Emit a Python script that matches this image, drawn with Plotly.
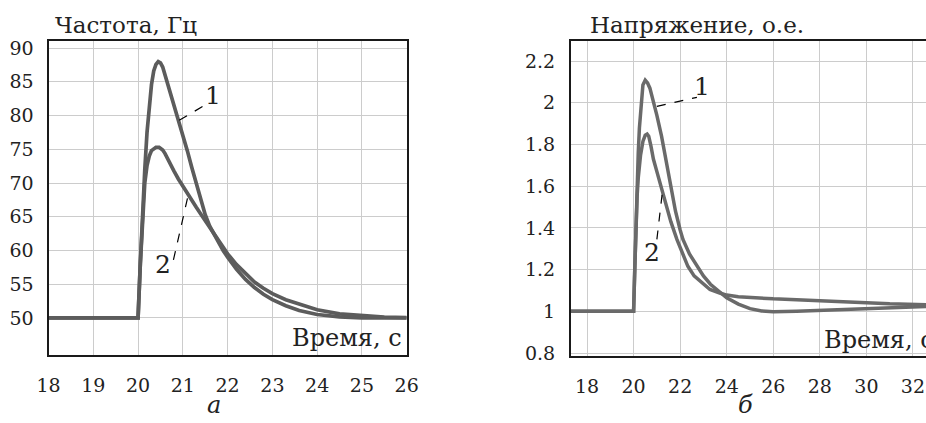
import plotly.graph_objects as go

# ---------- Data: frequency (panel a) ----------
t_f1 = [18.0, 19.0, 19.98, 20.0, 20.05, 20.1, 20.15, 20.2, 20.25, 20.3, 20.35, 20.4, 20.45, 20.5, 20.55,
        20.6, 20.7, 20.8, 20.9, 21.0, 21.1, 21.2, 21.3, 21.4, 21.5, 21.6, 21.7, 21.8, 21.9, 22.0,
        22.2, 22.4, 22.6, 22.8, 23.0, 23.3, 23.6, 24.0, 24.5, 25.0, 25.5, 26.0]
f1 = [50.0, 50.0, 50.0, 50.0, 58.0, 66.0, 72.0, 77.5, 81.5, 84.6, 86.6, 87.6, 88.0, 87.8, 87.2,
      86.1, 84.0, 81.7, 79.4, 77.1, 74.8, 72.3, 69.8, 67.4, 65.3, 63.6, 62.3, 61.1, 60.0, 59.0,
      57.2, 55.7, 54.5, 53.5, 52.7, 51.8, 51.1, 50.5, 50.15, 50.0, 50.0, 50.0]

t_f2 = [18.0, 19.0, 19.98, 20.0, 20.05, 20.1, 20.15, 20.2, 20.25, 20.3, 20.35, 20.4, 20.47, 20.5, 20.55,
        20.6, 20.7, 20.8, 20.9, 21.0, 21.1, 21.2, 21.3, 21.4, 21.5, 21.6, 21.7, 21.8, 21.9, 22.0,
        22.2, 22.4, 22.6, 22.8, 23.0, 23.3, 23.6, 24.0, 24.5, 25.0, 25.5, 26.0]
f2 = [50.0, 50.0, 50.0, 50.0, 58.0, 65.0, 70.0, 72.6, 74.0, 74.8, 75.1, 75.3, 75.3, 75.2, 74.9,
      74.4, 73.0, 71.8, 70.6, 69.5, 68.4, 67.4, 66.4, 65.4, 64.4, 63.4, 62.3, 61.3, 60.3, 59.5,
      57.9, 56.5, 55.3, 54.4, 53.6, 52.7, 52.0, 51.2, 50.6, 50.3, 50.1, 50.05]

# ---------- Data: voltage (panel б) ----------
t_u1 = [17.3, 19.0, 19.98, 20.0, 20.05, 20.1, 20.15, 20.2, 20.25, 20.3, 20.35, 20.4, 20.5, 20.6, 20.7,
        20.8, 20.9, 21.0, 21.2, 21.4, 21.6, 21.8, 22.0, 22.12, 22.4, 22.72, 23.0, 23.3, 23.58, 23.7,
        24.0, 24.5, 25.0, 25.5, 26.0, 27.0, 28.0, 29.0, 30.0, 31.0, 32.6]
u1 = [1.0, 1.0, 1.0, 1.0, 1.2, 1.42, 1.6, 1.76, 1.88, 1.97, 2.04, 2.085, 2.108, 2.095, 2.07,
      2.03, 1.985, 1.94, 1.84, 1.72, 1.595, 1.48, 1.39, 1.345, 1.275, 1.216, 1.17, 1.13, 1.105, 1.09,
      1.065, 1.035, 1.013, 1.002, 0.998, 1.0, 1.005, 1.01, 1.014, 1.018, 1.024]

t_u2 = [17.3, 19.0, 19.98, 20.0, 20.05, 20.1, 20.15, 20.2, 20.3, 20.4, 20.5, 20.58, 20.65, 20.75, 20.85,
        21.0, 21.1, 21.26, 21.4, 21.6, 21.86, 22.1, 22.33, 22.6, 22.9, 23.28, 23.7, 24.0, 24.5, 25.0,
        26.0, 27.0, 28.0, 29.0, 30.0, 31.0, 32.6]
u2 = [1.0, 1.0, 1.0, 1.0, 1.2, 1.4, 1.55, 1.64, 1.75, 1.815, 1.845, 1.85, 1.84, 1.79, 1.73,
      1.67, 1.63, 1.58, 1.51, 1.43, 1.345, 1.28, 1.216, 1.17, 1.14, 1.105, 1.088, 1.078, 1.07, 1.066,
      1.06, 1.056, 1.05, 1.045, 1.04, 1.036, 1.032]

f_xticks = [18, 19, 20, 21, 22, 23, 24, 25, 26]
f_yticks = [50, 55, 60, 65, 70, 75, 80, 85, 90]
u_xticks = [18, 20, 22, 24, 26, 28, 30, 32]
u_yticks = [0.8, 1.0, 1.2, 1.4, 1.6, 1.8, 2.0, 2.2]
u_ytext = ["0.8", "1", "1.2", "1.4", "1.6", "1.8", "2", "2.2"]

FONT = "DejaVu Serif"
LEFT_COLOR = "#5c5c5c"
RIGHT_COLOR = "#6a6a6a"

fig = go.Figure()
fig.add_trace(go.Scatter(x=t_f1, y=f1, mode="lines", line=dict(color=LEFT_COLOR, width=3.7),
                         xaxis="x", yaxis="y", showlegend=False, hoverinfo="skip"))
fig.add_trace(go.Scatter(x=t_f2, y=f2, mode="lines", line=dict(color=LEFT_COLOR, width=3.7),
                         xaxis="x", yaxis="y", showlegend=False, hoverinfo="skip"))
fig.add_trace(go.Scatter(x=t_u1, y=u1, mode="lines", line=dict(color=RIGHT_COLOR, width=3.5),
                         xaxis="x2", yaxis="y2", showlegend=False, hoverinfo="skip"))
fig.add_trace(go.Scatter(x=t_u2, y=u2, mode="lines", line=dict(color=RIGHT_COLOR, width=3.5),
                         xaxis="x2", yaxis="y2", showlegend=False, hoverinfo="skip"))

axis_common = dict(showgrid=True, gridcolor="#cccccc", gridwidth=1, zeroline=False,
                   showline=True, linecolor="#1a1a1a", linewidth=2, ticks="",
                   tickfont=dict(family=FONT, size=19, color="#222"), automargin=False)

fig.update_layout(
    width=926, height=423,
    margin=dict(l=0, r=0, t=0, b=0),
    paper_bgcolor="white", plot_bgcolor="white",
    font=dict(family=FONT),
    xaxis=dict(domain=[0.0524, 0.4392], range=[18, 26], tickvals=f_xticks, mirror=True,
               anchor="y", ticklabelstandoff=12, **axis_common),
    yaxis=dict(domain=[0.1608, 0.903], range=[44.5, 91.05], tickvals=f_yticks, mirror=True,
               anchor="x", ticklabelstandoff=9, **axis_common),
    xaxis2=dict(domain=[0.6166, 1.0], range=[17.31, 32.56], tickvals=u_xticks, mirror=True,
                anchor="y2", ticklabelstandoff=12, **axis_common),
    yaxis2=dict(domain=[0.1584, 0.903], range=[0.786, 2.296], tickvals=u_yticks, ticktext=u_ytext,
                mirror=False, anchor="x2", ticklabelstandoff=10, **axis_common),
)

# Label leader lines (data coordinates)
leaders = [
    ("x", "y", 20.92, 79.3, 21.57, 81.85),
    ("x", "y", 20.79, 58.6, 21.12, 68.2),
    ("x2", "y2", 21.0, 1.983, 22.72, 2.026),
    ("x2", "y2", 21.0, 1.345, 21.26, 1.595),
]
for xr, yr, x0, y0, x1, y1 in leaders:
    fig.add_shape(type="line", xref=xr, yref=yr, x0=x0, y0=y0, x1=x1, y1=y1,
                  line=dict(color="black", width=1.2, dash="dash"))

labels = [
    ("x", "y", 21.68, 83.0, "1"),
    ("x", "y", 20.56, 57.85, "2"),
    ("x2", "y2", 22.94, 2.079, "1"),
    ("x2", "y2", 20.79, 1.283, "2"),
]
for xr, yr, x, y, txt in labels:
    fig.add_annotation(xref=xr, yref=yr, x=x, y=y, text=txt, showarrow=False,
                       font=dict(family=FONT, size=25, color="#222"))

texts = [
    (53 / 926, 1 - 25 / 423, "left", "Частота, Гц", 23),
    (588 / 926, 1 - 25 / 423, "left", "Напряжение, о.е.", 23),
    (404 / 926, 1 - 338 / 423, "right", "Время, с", 24),
    (822 / 926, 1 - 340 / 423, "left", "Время, с", 24),
    (214 / 926, 1 - 405 / 423, "center", "<i>а</i>", 24),
    (745 / 926, 1 - 405 / 423, "center", "<i>б</i>", 24),
]
for x, y, anchor, txt, size in texts:
    fig.add_annotation(xref="paper", yref="paper", x=x, y=y, xanchor=anchor, yanchor="middle",
                       text=txt, showarrow=False, font=dict(family=FONT, size=size, color="#222"))

fig.write_html("out.html", config={"displayModeBar": False, "staticPlot": True},
               post_script="document.body.style.margin='0';document.body.style.overflow='hidden';")
